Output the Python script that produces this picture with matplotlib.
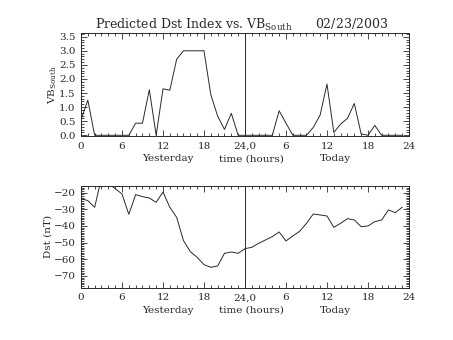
import numpy as np
import matplotlib
matplotlib.use('Agg')
import matplotlib.pyplot as plt
from matplotlib.ticker import MultipleLocator

# hourly values, yesterday 0-23 then today 0-23
hours = list(range(48))
vb_south = [0.55, 1.25, 0.0, 0.0, 0.0, 0.0, 0.0, 0.0, 0.43, 0.43, 1.62, 0.0,
            1.65, 1.6, 2.7, 3.0, 3.0, 3.0, 3.0, 1.44, 0.68, 0.21, 0.78, 0.0,
            0.0, 0.0, 0.0, 0.0, 0.0, 0.87, 0.43, 0.0, 0.0, 0.0, 0.28, 0.72,
            1.82, 0.1, 0.4, 0.6, 1.13, 0.05, 0.0, 0.35, 0.0, 0.0, 0.0, 0.0]
dst = [-23.4, -24.8, -28.8, -11.0, -14.5, -17.6, -20.8, -33.0, -21.2, -22.4, -23.2, -25.8,
       -19.6, -28.8, -34.8, -48.8, -55.4, -58.8, -63.2, -64.8, -64.0, -56.4, -55.6, -56.4,
       -53.6, -52.8, -50.4, -48.4, -46.4, -43.6, -49.0, -46.0, -43.2, -38.4, -32.8, -33.4,
       -34.0, -40.8, -38.4, -35.6, -36.4, -40.4, -40.0, -37.4, -36.4, -30.4, -32.0, -28.8]

xticks = [0, 6, 12, 18, 24, 30, 36, 42, 48]
xticklabels = ['0', '6', '12', '18', '24,0', '6', '12', '18', '24']
title = 'Predicted Dst Index vs. VB$_{\\mathrm{South}}$      02/23/2003'

ink = '#2a2a2a'
plt.rcParams['font.family'] = ['DejaVu Serif']
plt.rcParams['mathtext.fontset'] = 'dejavuserif'
plt.rcParams['text.color'] = ink
plt.rcParams['axes.labelcolor'] = ink
plt.rcParams['xtick.color'] = ink
plt.rcParams['ytick.color'] = ink

fig = plt.figure(figsize=(4.53, 3.40), dpi=100)
ax1 = fig.add_axes([0.1788, 0.600, 0.724, 0.302])
ax2 = fig.add_axes([0.1788, 0.154, 0.724, 0.299])


def style(ax, ymajor, yminor):
    ax.set_xlim(0, 48)
    ax.set_xticks(xticks)
    ax.set_xticklabels(xticklabels)
    ax.xaxis.set_minor_locator(MultipleLocator(1))
    ax.yaxis.set_major_locator(MultipleLocator(ymajor))
    ax.yaxis.set_minor_locator(MultipleLocator(yminor))
    ax.tick_params(which='both', direction='in', top=True, right=True,
                   labelsize=7.5, pad=4, width=0.6, colors=ink)
    ax.tick_params(which='major', length=4)
    ax.tick_params(which='minor', length=2)
    for s in ax.spines.values():
        s.set_linewidth(0.7)
        s.set_color(ink)
    ax.axvline(24, color=ink, lw=0.7)
    ax.text(0.265, -0.22, 'Yesterday', transform=ax.transAxes,
            ha='center', va='center', fontsize=7.5)
    ax.text(0.52, -0.22, 'time (hours)', transform=ax.transAxes,
            ha='center', va='center', fontsize=7.5)
    ax.text(0.775, -0.22, 'Today', transform=ax.transAxes,
            ha='center', va='center', fontsize=7.5)


ax1.plot(hours, vb_south, color=ink, lw=0.7)
ax1.set_ylim(-0.025, 3.62)
style(ax1, 0.5, 0.1)
ax1.yaxis.set_major_formatter(matplotlib.ticker.FormatStrFormatter('%.1f'))
ax1.set_ylabel('VB$_{\\mathrm{South}}$', fontsize=7.5, labelpad=0)
ax1.set_title(title, fontsize=9, pad=2, x=0.49)

ax2.plot(hours, dst, color=ink, lw=0.7)
ax2.set_ylim(-77, -16)
style(ax2, 10, 1)
ax2.set_ylabel('Dst (nT)', fontsize=7.5, labelpad=1)

fig.savefig('out.png', dpi=100)
